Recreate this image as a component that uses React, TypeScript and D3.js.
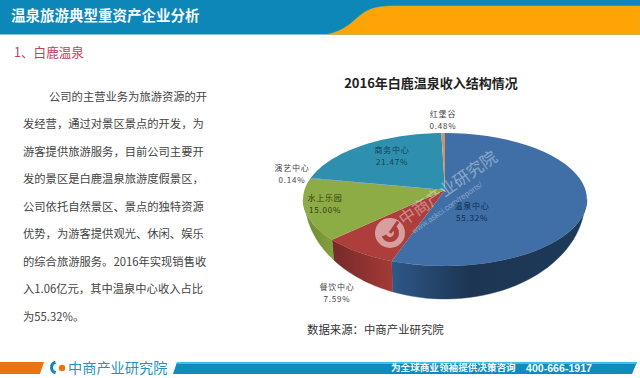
import React from "react";
import * as d3 from "d3";

const chartTitle = "2016年白鹿温泉收入结构情况";
const categories = ["温泉中心", "餐饮中心", "水上乐园", "演艺中心", "商务中心", "红堡谷"];
const shares = [55.32, 7.59, 15.0, 0.14, 21.47, 0.48];
const topColors = ["#3f6fa6", "#ad3e3b", "#8eac46", "#6f5a9a", "#2f8fae", "#c8966c"];
const wallStart = ["#2e5888", "#a23a37", "#83a03e", "#5a4a80", "#25758f", "#a87a55"];
const wallEnd = ["#1c3552", "#762a28", "#6c8733", "#4a3a70", "#1f6075", "#8a6040"];
const labelAnchors: [number, number][] = [[472, 206], [337, 287], [325, 198], [292, 168], [392, 150], [443, 114]];
const labelColors = ["#0f2b52", "#444", "#2e3a12", "#444", "#123f58", "#444"];
const bodyLines = [
  "公司的主营业务为旅游资源的开",
  "发经营，通过对景区景点的开发，为",
  "游客提供旅游服务，目前公司主要开",
  "发的景区是白鹿温泉旅游度假景区，",
  "公司依托自然景区、景点的独特资源",
  "优势，为游客提供观光、休闲、娱乐",
  "的综合旅游服务。2016年实现销售收",
  "入1.06亿元，其中温泉中心收入占比",
  "为55.32%。",
];

const W = 640, H = 378;
const CJK = "'Noto Sans CJK SC', sans-serif";
const cx = 445, apexY = 190, K = 140.5, Ky = 65.14, persp = 0.1429;
const bottomCy = 200, bottomRy = 99, bottomRx = 140, bottomScale = 0.985;
const fmt = d3.format(".2f");

const rim = (a: number): [number, number] => {
  const d = 1 + persp * Math.cos(a);
  return [cx + (K * Math.sin(a)) / d, apexY - (Ky * Math.cos(a)) / d];
};
const floor = (a: number): [number, number] => {
  const [x] = rim(a);
  const dx = (x - cx) * bottomScale;
  const t = Math.min(1, Math.abs(dx) / bottomRx);
  return [cx + dx, bottomCy + bottomRy * Math.sqrt(1 - t * t)];
};
const angles = d3.pie<number>().sort(null).value((d) => d)(shares);
const line = d3.line();
const sample = (a0: number, a1: number) =>
  d3.range(0, 41).map((i) => a0 + ((a1 - a0) * i) / 40);

const frontStart = Math.PI / 2 + Math.asin(persp);
const frontEnd = (3 * Math.PI) / 2 - Math.asin(persp);

const logoArc = d3.arc();

export default function App() {
  return (
    <svg width={W} height={H} viewBox={`0 0 ${W} ${H}`} style={{ position: "absolute", left: 0, top: 0, background: "#fff", fontFamily: CJK }}>
      <defs>
        {angles.map((s, i) => {
          const a0 = Math.max(s.startAngle, frontStart), a1 = Math.min(s.endAngle, frontEnd);
          if (a1 <= a0) return null;
          const dir = rim(a0)[0] > rim(a1)[0];
          return (
            <linearGradient key={i} id={`w${i}`} gradientUnits="userSpaceOnUse" x1={dir ? rim(a1)[0] : rim(a0)[0]} x2={dir ? rim(a0)[0] : rim(a1)[0]} y1={0} y2={0}>
              <stop offset="0" stopColor={i === 0 ? wallStart[i] : wallEnd[i]} />
              <stop offset={i === 0 ? "0.4" : "1"} stopColor={i === 0 ? wallEnd[i] : wallStart[i]} />
              {i === 0 && <stop offset="1" stopColor="#1e3a5a" />}
            </linearGradient>
          );
        })}
      </defs>

      {/* header */}
      <rect x={0} y={0} width={W} height={34.5} fill="#0d87b7" />
      <path d="M327,34.5 C345,31 352,22 362,14 C370,8 380,6 395,6 L640,6 L640,34.5 Z" fill="#fea505" stroke="#cfb04a" strokeWidth={0.6} />
      <text x={11} y={20.5} fontSize={14.5} fontWeight={700} fill="#f2fbff">温泉旅游典型重资产企业分析</text>
      <text x={14} y={57} fontSize={12.6} fill="#c4405c">1、白鹿温泉</text>

      {/* body copy */}
      {bodyLines.map((t, i) => (
        <text key={i} x={i === 0 ? 49 : 23} y={101 + i * 27.45} fontSize={11.3} fill="#444">{t}</text>
      ))}

      {/* chart */}
      <text x={431} y={88} textAnchor="middle" fontSize={13} fontWeight={700} fill="#222">{chartTitle}</text>

      {angles.map((s, i) => {
        const a0 = Math.max(s.startAngle, frontStart), a1 = Math.min(s.endAngle, frontEnd);
        if (a1 <= a0) return null;
        const pts = sample(a0, a1);
        const d = line([...pts.map(rim), ...pts.slice().reverse().map(floor)]) + "Z";
        return <path key={i} d={d} fill={`url(#w${i})`} stroke={`url(#w${i})`} strokeWidth={0.4} />;
      })}
      {angles.map((s, i) => {
        const d = line([[cx, apexY], ...sample(s.startAngle, s.endAngle).map(rim)]) + "Z";
        return <path key={i} d={d} fill={topColors[i]} />;
      })}

      {/* watermark */}
      <g fill="#fff">
        <g transform="translate(390,233)" opacity={0.6}>
          <circle r={15} fill="#fff" opacity={0.85} />
          <path d={logoArc({ innerRadius: 4, outerRadius: 9, startAngle: 0.6, endAngle: 4.3 } as any) as string} fill={topColors[1]} />
          <rect x={-1.5} y={-14} width={3} height={14} fill={topColors[1]} transform="rotate(35)" />
        </g>
        <text transform="translate(404,226) rotate(-35)" fontSize={16.5} opacity={0.38}>中商产业研究院</text>
        <text transform="translate(414,234) rotate(-35)" fontSize={8} opacity={0.35} fontFamily="'Liberation Sans', sans-serif">www.askci.com/reports/</text>
      </g>

      {/* labels */}
      {categories.map((c, i) => (
        <g key={c} fontSize={8} letterSpacing={0.8} fill={labelColors[i]} textAnchor="middle">
          <text x={labelAnchors[i][0]} y={labelAnchors[i][1] + 3}>{c}</text>
          <text x={labelAnchors[i][0]} y={labelAnchors[i][1] + 14.5}>{fmt(shares[i])}%</text>
        </g>
      ))}

      <text x={307} y={334} fontSize={11.4} fill="#333">数据来源：中商产业研究院</text>

      {/* footer */}
      <path d="M0,362 L44,362 L40,374 L0,374 Z" fill="#ea7411" />
      <path d="M177,362 L637,362 L632,374 L173,374 Z" fill="#0f8cbc" />
      <path d="M177,362 L637,362 L636.4,364 L176.3,364 Z" fill="#3cc0e4" />
      <path d={logoArc({ innerRadius: 4, outerRadius: 7, startAngle: 3.4, endAngle: 6.0 } as any) as string} transform="translate(57,367.5)" fill="#1387b8" />
      <circle cx={62} cy={368} r={3.2} fill="#ea7411" />
      <text x={68} y={372.5} fontSize={14.2} fill="#2a8fc0" fontWeight={400}>中商产业研究院</text>
      <text x={391} y={371} fontSize={9.6} fontWeight={700} fill="#f4fbff">为全球商业领袖提供决策咨询</text>
      <text x={526} y={371.5} fontSize={10.6} fontWeight={700} fill="#f4fbff" fontFamily="'Liberation Sans', sans-serif">400-666-1917</text>
    </svg>
  );
}
